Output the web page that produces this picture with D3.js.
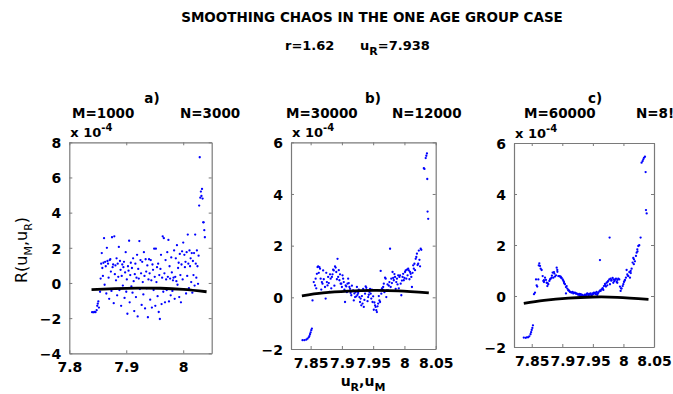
<!DOCTYPE html>
<html><head><meta charset="utf-8">
<script src="https://cdn.jsdelivr.net/npm/d3@7"></script>
<style>
html,body{margin:0;padding:0;background:#fff;}
svg{display:block;}
text{font-family:"DejaVu Sans",sans-serif;}
</style></head>
<body>
<svg id="chart" width="673" height="394"></svg>
<script>
// ---------------- DATA ----------------
const titleText = "SMOOTHING CHAOS IN THE ONE AGE GROUP CASE";
const panelLetters = ["a)", "b)", "c)"];
const panelM = ["M=1000", "M=30000", "M=60000"];
const panelN = ["N=3000", "N=12000", "N=8!"];

const xTicksA = [7.8, 7.9, 8];
const xTicksBC = [7.85, 7.9, 7.95, 8, 8.05];
const yTicksA = [-4, -2, 0, 2, 4, 6, 8];
const yTicksBC = [-2, 0, 2, 4, 6];

// values in units of 1e-4
const pointsA = [
[7.840,-1.66],[7.842,-1.67],[7.844,-1.65],[7.846,-1.66],[7.848,-1.55],[7.849,-1.30],[7.850,-1.18],[7.851,-1.05],[7.852,-1.40],
[7.854,-0.50],[7.855,0.25],[7.856,1.10],[7.857,1.70],[7.858,0.85],[7.859,0.40],[7.860,1.15],[7.861,2.55],[7.862,-0.10],
[7.863,1.20],[7.864,0.95],[7.865,-0.60],[7.866,2.00],[7.867,1.25],[7.868,1.10],[7.869,0.30],[7.870,-0.90],[7.871,1.30],
[7.872,1.35],[7.873,0.65],[7.874,-0.45],[7.875,2.60],[7.876,0.90],[7.877,1.05],[7.878,-1.15],[7.879,2.65],[7.880,0.50],
[7.881,1.00],[7.882,0.15],[7.883,1.40],[7.884,-0.70],[7.885,1.10],[7.886,0.35],[7.887,2.05],[7.888,-0.40],[7.889,1.25],
[7.890,0.75],[7.891,-1.30],[7.892,0.40],[7.893,1.05],[7.894,-0.15],[7.895,0.90],[7.896,1.20],[7.897,-0.85],[7.898,0.60],
[7.899,1.75],[7.900,-0.50],[7.901,0.20],[7.902,-1.75],[7.903,0.95],[7.904,0.70],[7.905,2.40],[7.906,-1.10],[7.907,0.45],
[7.908,1.15],[7.909,-0.20],[7.910,0.85],[7.911,-0.55],[7.912,1.40],[7.913,0.10],[7.914,-1.60],[7.915,0.50],[7.916,1.10],
[7.917,-0.80],[7.918,0.30],[7.919,1.60],[7.920,-1.90],[7.921,0.80],[7.922,0.25],[7.923,2.38],[7.924,-0.35],[7.925,1.30],
[7.926,0.55],[7.927,-1.25],[7.928,1.20],[7.929,0.05],[7.930,-0.65],[7.931,1.75],[7.932,0.40],[7.933,-1.45],[7.934,1.35],
[7.935,0.65],[7.936,-0.30],[7.937,1.00],[7.938,-1.95],[7.939,0.20],[7.940,1.35],[7.941,0.55],[7.942,-0.95],[7.943,1.30],
[7.944,0.15],[7.945,-1.40],[7.946,1.05],[7.947,0.75],[7.948,-0.40],[7.949,1.95],[7.950,0.35],[7.951,-1.30],[7.952,1.95],
[7.953,0.05],[7.954,0.90],[7.955,-0.75],[7.956,1.10],[7.957,-1.65],[7.958,0.45],[7.959,-2.05],[7.960,0.80],[7.961,1.60],
[7.962,-1.20],[7.963,0.30],[7.964,2.65],[7.965,-0.50],[7.966,2.55],[7.967,0.55],[7.968,-1.10],[7.969,1.30],[7.970,0.20],
[7.971,-0.40],[7.972,1.75],[7.973,0.35],[7.974,2.45],[7.975,-1.05],[7.976,0.95],[7.977,0.25],[7.978,-0.70],[7.979,1.45],
[7.980,0.60],[7.981,-0.45],[7.982,0.15],[7.983,0.30],[7.984,1.85],[7.985,-0.90],[7.986,0.35],[7.987,1.40],[7.988,0.10],
[7.989,2.15],[7.990,-0.10],[7.991,0.85],[7.992,1.15],[7.993,-0.80],[7.994,1.65],[7.995,0.45],[7.996,-1.10],[7.997,1.05],
[7.998,1.80],[7.999,0.20],[8.000,2.30],[8.001,-0.35],[8.002,1.60],[8.003,0.90],[8.004,1.20],[8.005,-0.60],[8.006,1.75],
[8.007,0.40],[8.008,2.75],[8.009,1.10],[8.010,-0.30],[8.011,1.85],[8.012,0.95],[8.013,1.40],[8.014,0.05],[8.015,1.70],
[8.016,-0.55],[8.017,1.25],[8.018,0.45],[8.019,1.70],[8.020,-0.15],[8.021,2.75],[8.022,1.10],[8.023,0.30],[8.024,1.85],
[8.025,0.95],[8.026,-0.05],[8.027,1.55],[8.028,4.40],[8.029,7.15],[8.030,4.85],[8.031,5.20],[8.032,4.95],[8.033,5.35],
[8.034,4.80],[8.035,3.45],[8.036,3.45],[8.037,3.00],[8.038,2.60]
];
const fitA = [[7.839,-0.38],[7.88,-0.32],[7.92,-0.29],[7.96,-0.30],[8.0,-0.37],[8.041,-0.50]];

const pointsB = [
[7.837,-1.66],[7.840,-1.66],[7.843,-1.64],[7.845,-1.60],[7.847,-1.55],[7.848,-1.50],[7.849,-1.43],[7.850,-1.36],[7.851,-1.27],[7.852,-1.21],
[7.853,-0.12],[7.855,0.59],[7.857,0.46],[7.858,0.72],[7.860,0.91],[7.861,1.17],[7.862,1.20],[7.864,1.17],[7.865,1.11],[7.866,0.72],
[7.868,0.59],[7.869,0.53],[7.870,1.04],[7.873,0.40],[7.874,-0.05],[7.876,0.59],[7.877,0.46],[7.878,0.79],[7.880,0.21],[7.881,0.89],
[7.882,0.72],[7.884,0.79],[7.885,0.89],[7.886,1.07],[7.887,1.04],[7.889,1.20],[7.890,1.15],[7.891,0.98],[7.893,1.49],[7.894,0.79],
[7.896,0.66],[7.897,0.89],[7.898,0.53],[7.899,0.53],[7.901,0.85],[7.902,0.72],[7.903,0.59],[7.905,-0.18],[7.906,0.46],[7.907,0.42],
[7.909,0.53],[7.910,0.72],[7.912,0.40],[7.913,0.33],[7.914,0.17],[7.915,0.08],[7.917,0.24],[7.918,0.27],[7.919,-0.12],[7.921,0.01],
[7.922,0.21],[7.923,0.04],[7.924,0.40],[7.926,0.17],[7.928,0.01],[7.929,-0.18],[7.930,-0.05],[7.931,-0.31],[7.933,-0.24],[7.934,0.33],
[7.935,-0.37],[7.937,0.14],[7.938,0.42],[7.939,0.37],[7.940,0.27],[7.942,0.01],[7.944,0.21],[7.945,0.33],[7.946,0.14],[7.947,-0.05],
[7.949,-0.18],[7.950,0.04],[7.951,-0.48],[7.953,-0.31],[7.954,-0.37],[7.955,-0.50],[7.956,-0.57],[7.958,-0.24],[7.960,-0.12],[7.961,-0.18],
[7.962,1.02],[7.963,0.14],[7.965,0.30],[7.966,0.40],[7.967,0.53],[7.969,0.76],[7.970,0.72],[7.971,0.01],[7.972,0.27],[7.974,0.27],
[7.976,0.59],[7.977,1.88],[7.978,0.40],[7.979,0.72],[7.981,0.98],[7.982,0.75],[7.983,0.66],[7.985,0.79],[7.986,0.33],[7.987,0.59],
[7.988,0.72],[7.990,0.85],[7.992,0.79],[7.993,0.85],[7.994,0.53],[7.995,0.08],[7.997,0.79],[7.998,0.91],[7.999,0.66],[8.001,0.98],
[8.002,1.04],[8.003,0.72],[8.004,1.07],[8.006,1.11],[8.007,1.04],[8.009,0.98],[8.010,0.91],[8.011,0.79],[8.012,0.40],[8.014,1.24],
[8.015,1.11],[8.016,1.30],[8.018,1.49],[8.019,1.56],[8.020,1.69],[8.022,1.30],[8.023,1.81],[8.026,1.88],[8.027,1.84],[8.031,5.00],
[8.032,4.97],[8.034,5.39],[8.035,5.48],[8.036,5.57],[8.0365,4.58],[8.037,3.32],[8.038,3.04],
[7.859,0.35],[7.863,0.95],[7.867,0.30],[7.871,0.70],[7.875,0.95],[7.879,0.55],[7.883,0.35],[7.888,0.45],[7.892,0.70],[7.895,1.05],
[7.900,0.40],[7.904,0.30],[7.908,0.20],[7.911,0.55],[7.916,0.45],[7.920,0.15],[7.925,0.10],[7.927,0.30],[7.932,0.05],[7.936,-0.10],
[7.941,-0.15],[7.943,0.10],[7.948,0.30],[7.952,-0.20],[7.957,-0.35],[7.959,0.05],[7.964,0.35],[7.968,0.20],[7.973,0.50],[7.975,0.45],
[7.980,0.55],[7.984,0.90],[7.989,0.50],[7.991,0.35],[7.996,0.65],[8.000,0.75],[8.005,0.85],[8.008,0.70],[8.013,0.95],[8.017,1.05],
[8.021,1.25],[8.024,1.45],[8.025,1.20]
];
const fitB = [[7.836,0.06],[7.87,0.17],[7.91,0.24],[7.95,0.27],[7.99,0.25],[8.039,0.17]];

const pointsC = [
[7.837,-1.63],[7.840,-1.64],[7.842,-1.62],[7.844,-1.62],[7.846,-1.58],[7.848,-1.50],[7.849,-1.42],[7.850,-1.33],[7.851,-1.25],[7.852,-1.15],
[7.8537,0.07],[7.8553,0.13],[7.857,0.65],[7.858,0.42],[7.859,0.37],[7.8608,0.65],[7.8624,1.28],[7.8635,1.18],[7.8646,1.07],[7.8662,1.02],
[7.8679,0.78],[7.869,0.59],[7.870,0.55],[7.8717,0.72],[7.8733,0.63],[7.8744,0.52],[7.8755,0.39],[7.8771,0.46],[7.8788,0.59],[7.8799,0.65],
[7.881,0.68],[7.8826,0.72],[7.8842,0.92],[7.8853,0.72],[7.8864,0.94],[7.888,0.76],[7.8897,0.81],[7.8908,1.11],[7.8918,1.02],[7.8935,0.78],
[7.8951,0.78],[7.8962,0.76],[7.8973,0.76],[7.8989,0.71],[7.9006,0.65],[7.9016,0.60],[7.9027,0.55],[7.9044,0.46],[7.906,0.10],[7.9071,0.39],
[7.9082,0.29],[7.9098,0.24],[7.9114,0.20],[7.9125,0.16],[7.9152,0.13],[7.9169,0.16],[7.918,0.10],[7.9207,0.13],[7.9223,0.09],[7.9234,0.10],
[7.9261,0.05],[7.9277,0.08],[7.9288,0.03],[7.9299,0.07],[7.9316,0.00],[7.9332,0.04],[7.9343,-0.03],[7.9354,0.00],[7.937,0.05],[7.9387,0.00],
[7.9398,0.07],[7.9408,0.10],[7.9425,0.03],[7.9441,0.08],[7.9452,0.05],[7.9463,0.10],[7.948,0.03],[7.9496,0.10],[7.9507,0.08],[7.9518,0.13],
[7.9534,0.10],[7.955,0.07],[7.9561,0.16],[7.9572,0.05],[7.9589,0.13],[7.9605,0.18],[7.9616,1.41],[7.9627,0.20],[7.9643,0.26],[7.966,0.31],
[7.9671,0.24],[7.9681,0.39],[7.9698,0.47],[7.9714,0.37],[7.9725,0.52],[7.9736,0.42],[7.9752,0.59],[7.9769,0.65],[7.9774,2.29],[7.978,0.46],
[7.979,0.68],[7.9807,0.63],[7.9823,0.71],[7.9834,0.52],[7.9845,0.65],[7.9861,0.63],[7.9878,0.68],[7.9889,0.55],[7.990,0.63],[7.9916,0.68],
[7.9932,0.65],[7.9943,0.37],[7.9954,0.20],[7.997,0.29],[7.9987,0.39],[7.9998,0.46],[8.0009,0.55],[8.0025,0.63],[8.0041,0.72],[8.0052,1.02],
[8.0063,0.85],[8.008,0.78],[8.0096,0.94],[8.0107,0.72],[8.0118,0.98],[8.0134,1.07],[8.015,1.31],[8.0161,1.49],[8.0172,1.44],[8.0188,1.36],
[8.0205,1.57],[8.0216,1.70],[8.0227,1.83],[8.0243,1.96],[8.0259,1.99],[8.0281,2.29],[8.0297,5.23],[8.0314,5.29],[8.0325,5.36],[8.0336,5.42],
[8.0352,5.46],[8.0363,4.86],[8.0369,3.37],[8.038,3.24],
[7.8615,1.20],[7.8700,0.62],[7.8760,0.50],[7.8830,0.80],[7.8870,0.88],[7.8920,0.95],[7.8980,0.72],[7.9030,0.50],[7.9060,0.35],[7.9100,0.22],
[7.9140,0.15],[7.9190,0.12],[7.9250,0.07],[7.9310,0.05],[7.9370,0.02],[7.9430,0.06],[7.9490,0.06],[7.9540,0.12],[7.9580,0.10],[7.9620,0.22],
[7.9660,0.28],[7.9700,0.42],[7.9740,0.55],[7.9800,0.60],[7.9850,0.58],[7.9900,0.52],[7.9960,0.30],[8.0020,0.60],[8.0070,0.80],[8.0120,0.90],
[8.0170,1.25],[8.0230,1.75]
];
const fitC = [[7.837,-0.29],[7.87,-0.17],[7.91,-0.08],[7.95,-0.04],[7.99,-0.05],[8.041,-0.13]];

// ---------------- LAYOUT ----------------
const panels = [
  {box:{l:69.3,r:211.7,t:142.3,b:353.3}, xd:[7.8,8.05], yd:[-4,8], xt:xTicksA, yt:yTicksA, pts:pointsA, fit:fitA, letterX:152, mX:72, nX:180},
  {box:{l:291,r:435.7,t:142.3,b:349}, xd:[7.8186,8.05], yd:[-2,6], xt:xTicksBC, yt:yTicksBC, pts:pointsB, fit:fitB, letterX:373, mX:286, nX:392},
  {box:{l:514,r:654,t:143,b:347}, xd:[7.821,8.05], yd:[-2,6], xt:xTicksBC, yt:yTicksBC, pts:pointsC, fit:fitC, letterX:595, mX:524, nX:636}
];

const svg = d3.select("#chart");
svg.append("rect").attr("width",673).attr("height",394).attr("fill","#fff");

// Titles
svg.append("text").attr("x",372).attr("y",22).attr("text-anchor","middle")
  .attr("font-size",13.5).attr("font-weight","bold").text(titleText);
const sub = svg.append("text").attr("x",285).attr("y",50).attr("font-size",13).attr("font-weight","bold");
sub.append("tspan").text("r=1.62");
sub.append("tspan").attr("x",360).text("u");
sub.append("tspan").attr("dy",5).attr("font-size",11).text("R");
sub.append("tspan").attr("dy",-5).text("=7.938");

const axisColor = "#7a7a7a";

panels.forEach((p,i)=>{
  const x = d3.scaleLinear().domain(p.xd).range([p.box.l,p.box.r]);
  const y = d3.scaleLinear().domain(p.yd).range([p.box.b,p.box.t]);
  const g = svg.append("g");

  const bx = g.append("g").attr("transform",`translate(0,${p.box.b})`)
    .call(d3.axisBottom(x).tickValues(p.xt).tickSizeInner(-3).tickSizeOuter(0).tickPadding(9).tickFormat(d3.format("")));
  const tx = g.append("g").attr("transform",`translate(0,${p.box.t})`)
    .call(d3.axisTop(x).tickValues(p.xt).tickSizeInner(-3).tickSizeOuter(0).tickFormat(""));
  const ly = g.append("g").attr("transform",`translate(${p.box.l},0)`)
    .call(d3.axisLeft(y).tickValues(p.yt).tickSizeInner(-3).tickSizeOuter(0).tickPadding(8).tickFormat(d3.format("")));
  const ry = g.append("g").attr("transform",`translate(${p.box.r},0)`)
    .call(d3.axisRight(y).tickValues(p.yt).tickSizeInner(-3).tickSizeOuter(0).tickFormat(""));
  [bx,tx,ly,ry].forEach(a=>{
    a.selectAll("path.domain").attr("stroke",axisColor).attr("stroke-width",1.2);
    a.selectAll(".tick line").attr("stroke",axisColor).attr("stroke-width",1);
    a.selectAll(".tick text").attr("fill","#000").attr("font-size",14).attr("font-weight","bold")
      .attr("font-family","DejaVu Sans, sans-serif");
  });
  ly.selectAll(".tick text").attr("dy","0.38em");

  g.append("g").selectAll("circle").data(p.pts).join("circle")
    .attr("cx",d=>x(d[0])).attr("cy",d=>y(d[1])).attr("r",1.15).attr("fill","#0000ff");

  g.append("path").datum(p.fit)
    .attr("d",d3.line().x(d=>x(d[0])).y(d=>y(d[1])).curve(d3.curveNatural))
    .attr("fill","none").attr("stroke","#000").attr("stroke-width",2.8);

  svg.append("text").attr("x",p.letterX).attr("y",103).attr("text-anchor","middle")
    .attr("font-size",13.5).attr("font-weight","bold").text(panelLetters[i]);
  svg.append("text").attr("x",p.mX).attr("y",118).attr("font-size",13.5).attr("font-weight","bold").text(panelM[i]);
  svg.append("text").attr("x",p.nX).attr("y",118).attr("font-size",13.5).attr("font-weight","bold").text(panelN[i]);

  const ex = svg.append("text").attr("x",p.box.l+1).attr("y",p.box.t-5).attr("font-size",13).attr("font-weight","bold");
  ex.append("tspan").text("x 10");
  ex.append("tspan").attr("dy",-6).attr("font-size",10).text("-4");
});

// y label
const yl = svg.append("text").attr("transform","translate(27,250) rotate(-90)")
  .attr("text-anchor","middle").attr("font-size",16).attr("font-family","Liberation Sans, Arial, sans-serif");
yl.append("tspan").text("R(u");
yl.append("tspan").attr("dy",5).attr("font-size",11).text("M");
yl.append("tspan").attr("dy",-5).text(",u");
yl.append("tspan").attr("dy",5).attr("font-size",11).text("R");
yl.append("tspan").attr("dy",-5).text(")");

// x label
const xl = svg.append("text").attr("x",363).attr("y",386).attr("text-anchor","middle")
  .attr("font-size",14).attr("font-weight","bold");
xl.append("tspan").text("u");
xl.append("tspan").attr("dy",5).attr("font-size",11).text("R");
xl.append("tspan").attr("dy",-5).text(",u");
xl.append("tspan").attr("dy",5).attr("font-size",11).text("M");
</script>
</body></html>
